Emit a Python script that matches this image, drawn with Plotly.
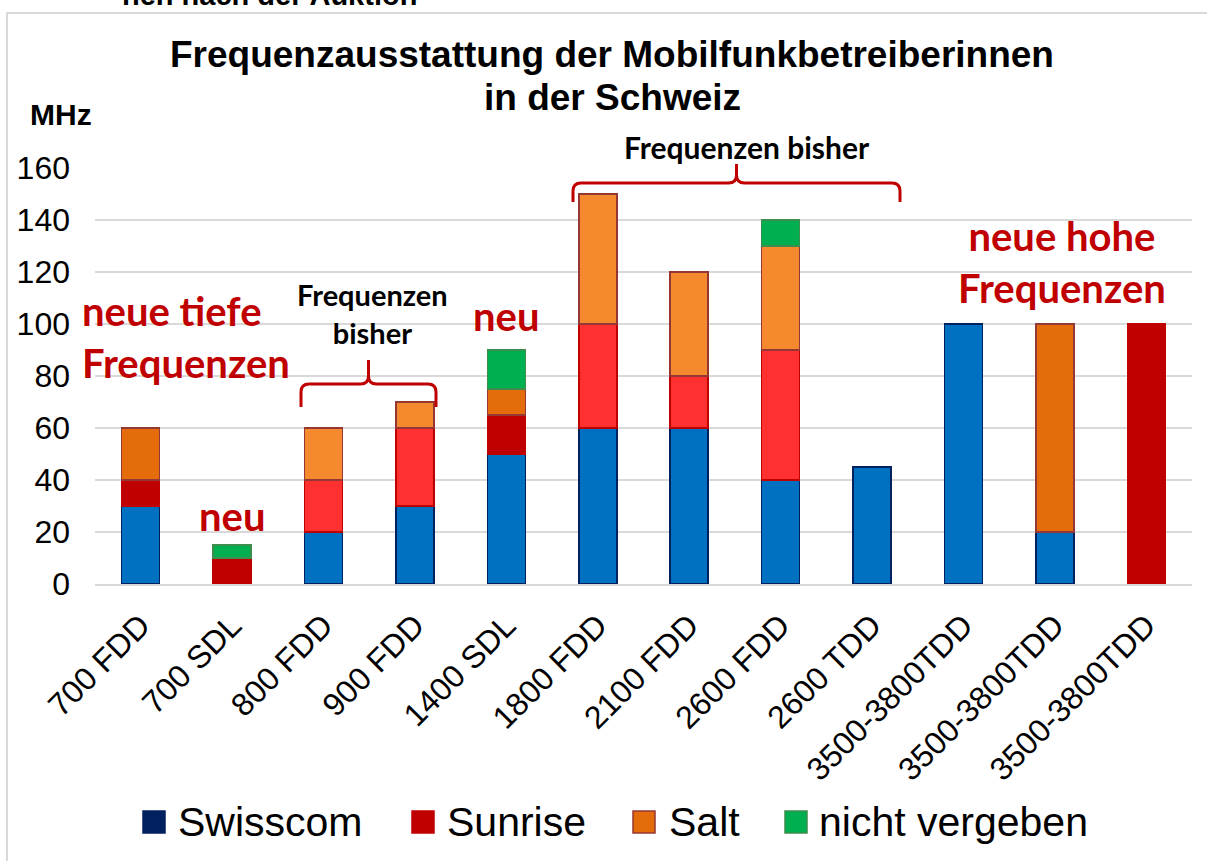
import plotly.graph_objects as go

# ---------------- data ----------------
categories = ["700 FDD", "700 SDL", "800 FDD", "900 FDD", "1400 SDL", "1800 FDD",
              "2100 FDD", "2600 FDD", "2600 TDD", "3500-3800TDD", "3500-3800TDD", "3500-3800TDD"]
series_names = ["Swisscom", "Sunrise", "Salt", "nicht vergeben"]
swisscom = [30, 0, 20, 30, 50, 60, 60, 40, 45, 100, 20, 0]
sunrise = [10, 10, 20, 30, 15, 40, 20, 50, 0, 0, 0, 100]
salt = [20, 0, 20, 10, 10, 50, 40, 40, 0, 0, 80, 0]
nicht_vergeben = [0, 5, 0, 0, 15, 0, 0, 10, 0, 0, 0, 0]
y_ticks = [0, 20, 40, 60, 80, 100, 120, 140, 160]

# ---------------- styles ----------------
new_band = [True, True, False, False, True, False, False, False, False, True, True, True]
BLUE, NAVY = "#0070C0", "#002060"
RED_NEW, RED_OLD = "#C00000", "#FF3030"
ORANGE_NEW, ORANGE_OLD = "#E46C0A", "#F4892E"
GREEN = "#00B050"
DARKRED = "#C00000"
FONT = "Arial, Liberation Sans, sans-serif"
CAL = "Lato, Carlito, sans-serif"

fill_colors = [
    [BLUE] * len(categories),
    [RED_NEW if n else RED_OLD for n in new_band],
    [ORANGE_NEW if n else ORANGE_OLD for n in new_band],
    [GREEN] * len(categories),
]
line_colors = [NAVY, "#C00000", "#953735", "#3C8D4E"]
legend_fill = [NAVY, "#C00000", "#E46C0A", "#00B050"]
legend_line = [NAVY, "#C00000", "#953735", "#3C8D4E"]

values = [swisscom, sunrise, salt, nicht_vergeben]
xpos = list(range(len(categories)))

fig = go.Figure()
for name, vals, fc, lc in zip(series_names, values, fill_colors, line_colors):
    fig.add_trace(go.Bar(
        x=xpos, y=[v if v else None for v in vals], name=name,
        marker=dict(color=fc, line=dict(color=lc, width=1.5)),
        width=0.415, showlegend=False,
    ))

# plot-area pixel geometry helpers (for decorations only)
L, R, T, B = 95, 15, 168, 277
W_PLOT = 1207 - L - R
H_PLOT = 861 - T - B


def px(xp):
    return (xp - L) / W_PLOT


def py(yp):
    return (861 - B - yp) / H_PLOT


def brace(x0, x1, yh, yend, ytip, r=8):
    xm = (x0 + x1) / 2
    pts = [
        f"M {px(x0)},{py(yend)}",
        f"L {px(x0)},{py(yh + r)}",
        f"Q {px(x0)},{py(yh)} {px(x0 + r)},{py(yh)}",
        f"L {px(xm - r)},{py(yh)}",
        f"Q {px(xm)},{py(yh)} {px(xm)},{py(yh - r)}",
        f"L {px(xm)},{py(ytip)}",
        f"L {px(xm)},{py(yh - r)}",
        f"Q {px(xm)},{py(yh)} {px(xm + r)},{py(yh)}",
        f"L {px(x1 - r)},{py(yh)}",
        f"Q {px(x1)},{py(yh)} {px(x1)},{py(yh + r)}",
        f"L {px(x1)},{py(yend)}",
    ]
    return dict(type="path", xref="paper", yref="paper", path=" ".join(pts),
                line=dict(color=DARKRED, width=3))


shapes = [
    # outer chart frame
    dict(type="rect", xref="paper", yref="paper", x0=px(7), x1=px(1222), y0=py(13), y1=py(885),
         line=dict(color="#D9D9D9", width=2), fillcolor="rgba(0,0,0,0)", layer="below"),
    brace(301, 436, 384, 407, 360),
    brace(573, 900, 183, 202, 164),
]

annotations = [
    dict(text="<b>nen nach der Auktion</b>", xref="paper", yref="paper", x=px(120), y=py(13),
         xanchor="left", yanchor="bottom", showarrow=False, font=dict(family=FONT, size=29, color="black")),
    dict(text="<b>Frequenzausstattung der Mobilfunkbetreiberinnen</b>", xref="paper", yref="paper",
         x=px(612), y=py(55), xanchor="center", yanchor="middle", showarrow=False,
         font=dict(family=FONT, size=37, color="black")),
    dict(text="<b>in der Schweiz</b>", xref="paper", yref="paper",
         x=px(612), y=py(97), xanchor="center", yanchor="middle", showarrow=False,
         font=dict(family=FONT, size=37, color="black")),
    dict(text="<b>MHz</b>", xref="paper", yref="paper", x=px(28), y=py(115),
         xanchor="left", yanchor="middle", showarrow=False, font=dict(family=FONT, size=30, color="black")),
    dict(text="<b>neue tiefe<br>Frequenzen</b>", xref="x", yref="y", x=0.5, y=95,
         xanchor="center", yanchor="middle", align="left", showarrow=False,
         font=dict(family=CAL, size=40, color=DARKRED)),
    dict(text="<b>neu</b>", xref="x", yref="y", x=1.0, y=26, xanchor="center", yanchor="middle",
         showarrow=False, font=dict(family=CAL, size=40, color=DARKRED)),
    dict(text="<b>neu</b>", xref="x", yref="y", x=4.0, y=103, xanchor="center", yanchor="middle",
         showarrow=False, font=dict(family=CAL, size=40, color=DARKRED)),
    dict(text="<b>Frequenzen<br>bisher</b>", xref="x", yref="y", x=2.54, y=104,
         xanchor="center", yanchor="middle", showarrow=False,
         font=dict(family=CAL, size=29, color="black")),
    dict(text="<b>Frequenzen bisher</b>", xref="paper", yref="paper", x=px(747), y=py(147),
         xanchor="center", yanchor="middle", showarrow=False,
         font=dict(family=CAL, size=30, color="black")),
    dict(text="<b>neue hohe<br>Frequenzen</b>", xref="x", yref="y", x=10.08, y=124,
         xanchor="center", yanchor="middle", showarrow=False,
         font=dict(family=CAL, size=40, color=DARKRED)),
]

# custom legend (squares + large labels)
legend_swatch_x = [143, 412, 633, 785]
legend_text_x = [176, 445, 667, 817]
for name, sx, tx, fc, lc in zip(series_names, legend_swatch_x, legend_text_x, legend_fill, legend_line):
    shapes.append(dict(type="rect", xref="paper", yref="paper", x0=px(sx), x1=px(sx + 22),
                       y0=py(833), y1=py(811), fillcolor=fc, line=dict(color=lc, width=1.5)))
    annotations.append(dict(text=name, xref="paper", yref="paper", x=px(tx), y=py(822),
                            xanchor="left", yanchor="middle", showarrow=False,
                            font=dict(family=FONT, size=41, color="black")))

fig.update_layout(
    barmode="stack",
    width=1207, height=861,
    margin=dict(l=L, r=R, t=T, b=B, autoexpand=False),
    paper_bgcolor="white", plot_bgcolor="white",
    showlegend=False,
    shapes=shapes,
    annotations=annotations,
    xaxis=dict(range=[-0.5, len(categories) - 0.5], tickvals=xpos, ticktext=categories,
               tickangle=-45, tickfont=dict(family=FONT, size=32, color="black"),
               showgrid=False, showline=True, linecolor="#D9D9D9", linewidth=2,
               ticks="", zeroline=False, ticklabelstandoff=8),
    yaxis=dict(range=[0, 160], tickvals=y_ticks, tickfont=dict(family=FONT, size=32, color="black"),
               showgrid=True, gridcolor="#D9D9D9", gridwidth=2, zeroline=False,
               showline=False, ticks="", ticklabelstandoff=24),
)

fig.write_html("out.html", config=dict(displayModeBar=False),
               post_script="document.body.style.margin='0px';document.body.style.overflow='hidden';")
